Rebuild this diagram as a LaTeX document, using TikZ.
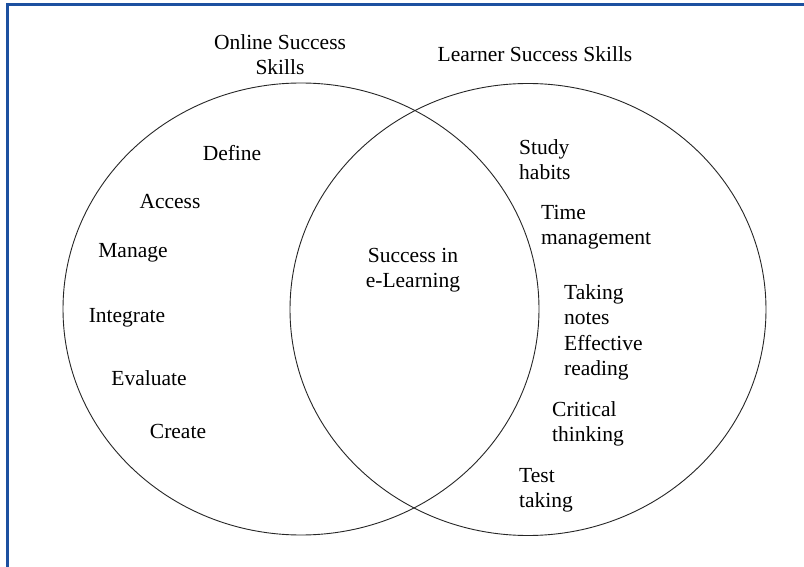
\documentclass[tikz,border=0pt]{standalone}
\usepackage{fontspec}
\setmainfont{Liberation Serif}
\definecolor{frameblue}{RGB}{28,80,160}
\begin{document}
\begin{tikzpicture}[x=1pt,y=-1pt,
  venn/.style={draw=black!85,line width=0.9pt},
  lbl/.style={inner sep=0pt,font=\fontsize{21.5}{25}\selectfont},
  ctr/.style={lbl,align=center},
  lft/.style={lbl,align=left,anchor=west}]
\useasboundingbox (0,0) rectangle (804,567);
\fill[white] (0,0) rectangle (804,567);
\draw[frameblue,line width=3pt] (7,567) -- (7,5) -- (804,5);
\draw[venn] (301,309) ellipse [x radius=238,y radius=226];
\draw[venn] (528,309.5) ellipse [x radius=238,y radius=226];
\node[ctr] (t1) at (280,55) {Online Success\\Skills};
\node[ctr] (t2) at (535,54) {Learner Success Skills};
\node[ctr] (mid) at (413,270.5) {Success in\\e-Learning};
\node[lbl] (a1) at (232,153) {Define};
\node[lbl] (a2) at (170,202) {Access};
\node[lbl] (a3) at (133,253) {Manage};
\node[lbl] (a4) at (127,318) {Integrate};
\node[lbl] (a5) at (149,378) {Evaluate};
\node[lbl] (a6) at (178,431) {Create};
\node[lft] (b1) at (519,160) {Study\\habits};
\node[lft] (b2) at (541,227) {Time\\management};
\node[lft] (b3) at (564,305) {Taking\\notes};
\node[lft] (b4) at (564,358) {Effective\\reading};
\node[lft] (b5) at (552,424) {Critical\\thinking};
\node[lft] (b6) at (519,490) {Test\\taking};
\end{tikzpicture}
\end{document}
